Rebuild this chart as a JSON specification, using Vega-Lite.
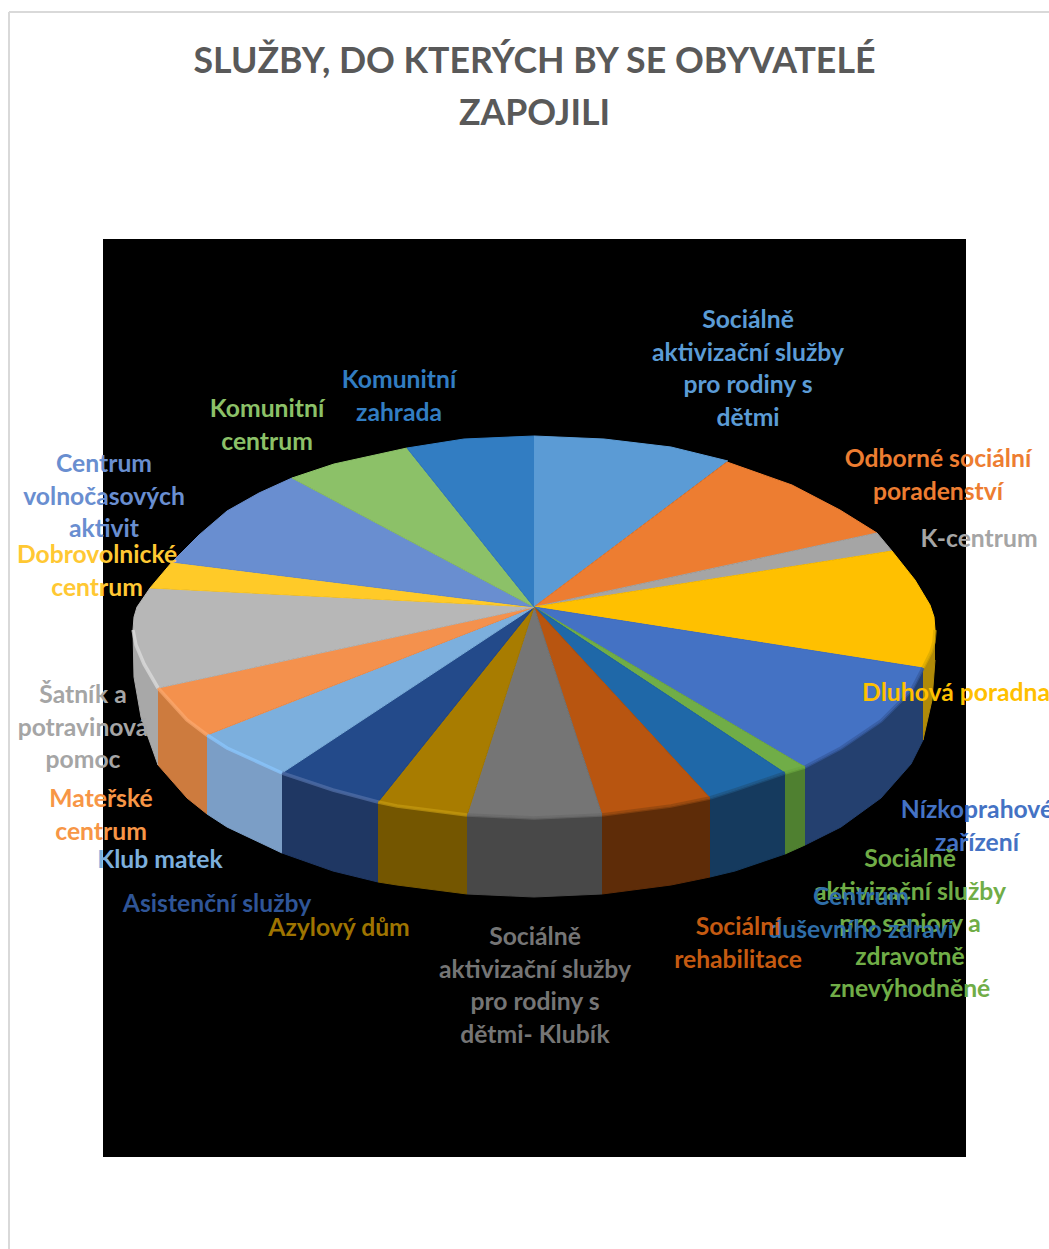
{"$schema":"https://vega.github.io/schema/vega-lite/v6.json","width":863,"height":918,"autosize":"none","padding":{"left":103,"top":239,"right":83,"bottom":92},"background":"white","view":{"fill":"black","stroke":null},
"title":{"text":["SLUŽBY, DO KTERÝCH BY SE OBYVATELÉ","ZAPOJILI"],"font":"Lato","fontSize":35.7,"fontWeight":"bold","color":"#595959","lineHeight":52,"anchor":"middle","offset":-122},
"datasets":{
"top":[
{"s":"Soc-rodiny","i":0,"x":0,"y":0},{"s":"Soc-rodiny","i":1,"x":0,"y":171},{"s":"Soc-rodiny","i":2,"x":70,"y":168},{"s":"Soc-rodiny","i":3,"x":137,"y":160},{"s":"Soc-rodiny","i":4,"x":194,"y":146},
{"s":"Odborné","i":0,"x":0,"y":0},{"s":"Odborné","i":1,"x":193,"y":145},{"s":"Odborné","i":2,"x":258,"y":122},{"s":"Odborné","i":3,"x":306,"y":97},{"s":"Odborné","i":4,"x":343,"y":74},
{"s":"K-centrum","i":0,"x":0,"y":0},{"s":"K-centrum","i":1,"x":343,"y":74},{"s":"K-centrum","i":2,"x":358,"y":56},
{"s":"Dluhová","i":0,"x":0,"y":0},{"s":"Dluhová","i":1,"x":358,"y":56},{"s":"Dluhová","i":2,"x":381,"y":27},{"s":"Dluhová","i":3,"x":396,"y":2},{"s":"Dluhová","i":4,"x":400,"y":-10},{"s":"Dluhová","i":5,"x":401,"y":-23},{"s":"Dluhová","i":6,"x":400,"y":-35},{"s":"Dluhová","i":7,"x":397,"y":-45},{"s":"Dluhová","i":8,"x":389,"y":-61},
{"s":"Nízkoprahové","i":0,"x":0,"y":0},{"s":"Nízkoprahové","i":1,"x":389,"y":-61},{"s":"Nízkoprahové","i":2,"x":377,"y":-84},{"s":"Nízkoprahové","i":3,"x":347,"y":-114},{"s":"Nízkoprahové","i":4,"x":307,"y":-141},{"s":"Nízkoprahové","i":5,"x":271,"y":-160},
{"s":"Soc-senioři","i":0,"x":0,"y":0},{"s":"Soc-senioři","i":1,"x":271,"y":-160},{"s":"Soc-senioři","i":2,"x":251,"y":-166},
{"s":"Duševní","i":0,"x":0,"y":0},{"s":"Duševní","i":1,"x":251,"y":-166},{"s":"Duševní","i":2,"x":201,"y":-183},{"s":"Duševní","i":3,"x":176,"y":-191},
{"s":"Rehabilitace","i":0,"x":0,"y":0},{"s":"Rehabilitace","i":1,"x":176,"y":-191},{"s":"Rehabilitace","i":2,"x":137,"y":-199},{"s":"Rehabilitace","i":3,"x":68,"y":-208},
{"s":"Klubík","i":0,"x":0,"y":0},{"s":"Klubík","i":1,"x":68,"y":-208},{"s":"Klubík","i":2,"x":0,"y":-211},{"s":"Klubík","i":3,"x":-67,"y":-208},
{"s":"Azylový","i":0,"x":0,"y":0},{"s":"Azylový","i":1,"x":-67,"y":-208},{"s":"Azylový","i":2,"x":-137,"y":-199},{"s":"Azylový","i":3,"x":-156,"y":-195},
{"s":"Asistenční","i":0,"x":0,"y":0},{"s":"Asistenční","i":1,"x":-156,"y":-195},{"s":"Asistenční","i":2,"x":-201,"y":-183},{"s":"Asistenční","i":3,"x":-252,"y":-166},
{"s":"Klub matek","i":0,"x":0,"y":0},{"s":"Klub matek","i":1,"x":-252,"y":-166},{"s":"Klub matek","i":2,"x":-307,"y":-141},{"s":"Klub matek","i":3,"x":-327,"y":-128},
{"s":"Mateřské","i":0,"x":0,"y":0},{"s":"Mateřské","i":1,"x":-327,"y":-128},{"s":"Mateřské","i":2,"x":-347,"y":-113},{"s":"Mateřské","i":3,"x":-376,"y":-81},
{"s":"Šatník","i":0,"x":0,"y":0},{"s":"Šatník","i":1,"x":-376,"y":-81},{"s":"Šatník","i":2,"x":-390,"y":-57},{"s":"Šatník","i":3,"x":-398,"y":-38},{"s":"Šatník","i":4,"x":-401,"y":-23},{"s":"Šatník","i":5,"x":-400,"y":-10},{"s":"Šatník","i":6,"x":-397,"y":0},{"s":"Šatník","i":7,"x":-384,"y":19},
{"s":"Dobrovolnické","i":0,"x":0,"y":0},{"s":"Dobrovolnické","i":1,"x":-384,"y":19},{"s":"Dobrovolnické","i":2,"x":-362,"y":45},
{"s":"Volnočasové","i":0,"x":0,"y":0},{"s":"Volnočasové","i":1,"x":-362,"y":45},{"s":"Volnočasové","i":2,"x":-335,"y":72},{"s":"Volnočasové","i":3,"x":-307,"y":96},{"s":"Volnočasové","i":4,"x":-275,"y":114},{"s":"Volnočasové","i":5,"x":-242,"y":129},
{"s":"Komunitní","i":0,"x":0,"y":0},{"s":"Komunitní","i":1,"x":-242,"y":129},{"s":"Komunitní","i":2,"x":-200,"y":143},{"s":"Komunitní","i":3,"x":-127,"y":159},
{"s":"Zahrada","i":0,"x":0,"y":0},{"s":"Zahrada","i":1,"x":-127,"y":159},{"s":"Zahrada","i":2,"x":-70,"y":168},{"s":"Zahrada","i":3,"x":0,"y":171}
],
"wall":[
{"s":"Dluhová","i":0,"x":401,"y":-23,"rim":1},{"s":"Dluhová","i":1,"x":400,"y":-35,"rim":1},{"s":"Dluhová","i":2,"x":397,"y":-45,"rim":1},{"s":"Dluhová","i":3,"x":389,"y":-61,"rim":1},{"s":"Dluhová","i":4,"x":389,"y":-133,"rim":0},{"s":"Dluhová","i":5,"x":398,"y":-93,"rim":0},{"s":"Dluhová","i":6,"x":401,"y":-53,"rim":0},
{"s":"Nízkoprahové","i":0,"x":389,"y":-61,"rim":1},{"s":"Nízkoprahové","i":1,"x":377,"y":-84,"rim":1},{"s":"Nízkoprahové","i":2,"x":347,"y":-114,"rim":1},{"s":"Nízkoprahové","i":3,"x":307,"y":-141,"rim":1},{"s":"Nízkoprahové","i":4,"x":271,"y":-160,"rim":1},{"s":"Nízkoprahové","i":5,"x":271,"y":-238,"rim":0},{"s":"Nízkoprahové","i":6,"x":307,"y":-220,"rim":0},{"s":"Nízkoprahové","i":7,"x":347,"y":-191,"rim":0},{"s":"Nízkoprahové","i":8,"x":377,"y":-157,"rim":0},{"s":"Nízkoprahové","i":9,"x":389,"y":-133,"rim":0},
{"s":"Soc-senioři","i":0,"x":271,"y":-160,"rim":1},{"s":"Soc-senioři","i":1,"x":251,"y":-166,"rim":1},{"s":"Soc-senioři","i":2,"x":251,"y":-247,"rim":0},{"s":"Soc-senioři","i":3,"x":271,"y":-238,"rim":0},
{"s":"Duševní","i":0,"x":251,"y":-166,"rim":1},{"s":"Duševní","i":1,"x":201,"y":-183,"rim":1},{"s":"Duševní","i":2,"x":176,"y":-191,"rim":1},{"s":"Duševní","i":3,"x":176,"y":-270,"rim":0},{"s":"Duševní","i":4,"x":201,"y":-264,"rim":0},{"s":"Duševní","i":5,"x":251,"y":-247,"rim":0},
{"s":"Rehabilitace","i":0,"x":176,"y":-191,"rim":1},{"s":"Rehabilitace","i":1,"x":137,"y":-199,"rim":1},{"s":"Rehabilitace","i":2,"x":68,"y":-208,"rim":1},{"s":"Rehabilitace","i":3,"x":68,"y":-287,"rim":0},{"s":"Rehabilitace","i":4,"x":137,"y":-278,"rim":0},{"s":"Rehabilitace","i":5,"x":176,"y":-270,"rim":0},
{"s":"Klubík","i":0,"x":68,"y":-208,"rim":1},{"s":"Klubík","i":1,"x":0,"y":-211,"rim":1},{"s":"Klubík","i":2,"x":-67,"y":-208,"rim":1},{"s":"Klubík","i":3,"x":-67,"y":-287,"rim":0},{"s":"Klubík","i":4,"x":0,"y":-290,"rim":0},{"s":"Klubík","i":5,"x":68,"y":-287,"rim":0},
{"s":"Azylový","i":0,"x":-67,"y":-208,"rim":1},{"s":"Azylový","i":1,"x":-137,"y":-199,"rim":1},{"s":"Azylový","i":2,"x":-156,"y":-195,"rim":1},{"s":"Azylový","i":3,"x":-156,"y":-275,"rim":0},{"s":"Azylový","i":4,"x":-137,"y":-278,"rim":0},{"s":"Azylový","i":5,"x":-67,"y":-287,"rim":0},
{"s":"Asistenční","i":0,"x":-156,"y":-195,"rim":1},{"s":"Asistenční","i":1,"x":-201,"y":-183,"rim":1},{"s":"Asistenční","i":2,"x":-252,"y":-166,"rim":1},{"s":"Asistenční","i":3,"x":-252,"y":-246,"rim":0},{"s":"Asistenční","i":4,"x":-201,"y":-264,"rim":0},{"s":"Asistenční","i":5,"x":-156,"y":-275,"rim":0},
{"s":"Klub matek","i":0,"x":-252,"y":-166,"rim":1},{"s":"Klub matek","i":1,"x":-307,"y":-141,"rim":1},{"s":"Klub matek","i":2,"x":-327,"y":-128,"rim":1},{"s":"Klub matek","i":3,"x":-327,"y":-207,"rim":0},{"s":"Klub matek","i":4,"x":-307,"y":-220,"rim":0},{"s":"Klub matek","i":5,"x":-252,"y":-246,"rim":0},
{"s":"Mateřské","i":0,"x":-327,"y":-128,"rim":1},{"s":"Mateřské","i":1,"x":-347,"y":-113,"rim":1},{"s":"Mateřské","i":2,"x":-376,"y":-81,"rim":1},{"s":"Mateřské","i":3,"x":-376,"y":-158,"rim":0},{"s":"Mateřské","i":4,"x":-347,"y":-191,"rim":0},{"s":"Mateřské","i":5,"x":-327,"y":-207,"rim":0},
{"s":"Šatník","i":0,"x":-376,"y":-81,"rim":1},{"s":"Šatník","i":1,"x":-390,"y":-57,"rim":1},{"s":"Šatník","i":2,"x":-398,"y":-38,"rim":1},{"s":"Šatník","i":3,"x":-401,"y":-23,"rim":1},{"s":"Šatník","i":4,"x":-400,"y":-70,"rim":0},{"s":"Šatník","i":5,"x":-393,"y":-110,"rim":0},{"s":"Šatník","i":6,"x":-376,"y":-158,"rim":0}
],
"labels":[
{"t":"Sociálně\naktivizační služby\npro rodiny s\ndětmi","s":"Soc-rodiny","x":214,"y":288},
{"t":"Odborné sociální\nporadenství","s":"Odborné","x":404,"y":149},
{"t":"K-centrum","s":"K-centrum","x":445,"y":69},
{"t":"Dluhová poradna","s":"Dluhová","x":422,"y":-85},
{"t":"Nízkoprahové\nzařízení","s":"Nízkoprahové","x":443,"y":-202},
{"t":"Sociálně\naktivizační služby\npro seniory a\nzdravotně\nznevýhodněné","s":"Soc-senioři","x":376,"y":-251},
{"t":"Centrum\nduševního zdraví","s":"Duševní","x":327,"y":-289},
{"t":"Sociální\nrehabilitace","s":"Rehabilitace","x":204,"y":-319},
{"t":"Sociálně\naktivizační služby\npro rodiny s\ndětmi- Klubík","s":"Klubík","x":1,"y":-329},
{"t":"Azylový dům","s":"Azylový","x":-195,"y":-320},
{"t":"Asistenční služby","s":"Asistenční","x":-317,"y":-296},
{"t":"Klub matek","s":"Klub matek","x":-374,"y":-252},
{"t":"Mateřské\ncentrum","s":"Mateřské","x":-433,"y":-191},
{"t":"Šatník a\npotravinová\npomoc","s":"Šatník","x":-451,"y":-87},
{"t":"Dobrovolnické\ncentrum","s":"Dobrovolnické","x":-437,"y":53},
{"t":"Centrum\nvolnočasových\naktivit","s":"Volnočasové","x":-430,"y":144},
{"t":"Komunitní\ncentrum","s":"Komunitní","x":-267,"y":199},
{"t":"Komunitní\nzahrada","s":"Zahrada","x":-135,"y":228}
],
"frame":[{"x":-525,"y":595,"x2":-525,"y2":-642},{"x":-525,"y":595,"x2":515,"y2":595}]
},
"layer":[
{"data":{"name":"frame"},"mark":{"type":"rule","color":"#d9d9d9","strokeWidth":2},
"encoding":{"x":{"field":"x","type":"quantitative","scale":{"domain":[-431,432],"nice":false,"zero":false},"axis":null},"y":{"field":"y","type":"quantitative","scale":{"domain":[-550,368],"nice":false,"zero":false},"axis":null},"x2":{"field":"x2"},"y2":{"field":"y2"}}},
{"data":{"name":"wall"},"mark":{"type":"line","filled":true,"strokeWidth":1,"strokeJoin":"round"},
"encoding":{"x":{"field":"x","type":"quantitative"},"y":{"field":"y","type":"quantitative"},"order":{"field":"i","type":"quantitative"},
"color":{"field":"s","type":"nominal","legend":null,"scale":{"domain":["Dluhová","Nízkoprahové","Soc-senioři","Duševní","Rehabilitace","Klubík","Azylový","Asistenční","Klub matek","Mateřské","Šatník"],"range":["#b08a08","#24406f","#4f8030","#153a5e","#5e2c08","#484848","#745600","#1f3763","#7b9ec6","#cd7b3e","#a8a8a8"]}},
"stroke":{"field":"s","type":"nominal","legend":null,"scale":{"domain":["Dluhová","Nízkoprahové","Soc-senioři","Duševní","Rehabilitace","Klubík","Azylový","Asistenční","Klub matek","Mateřské","Šatník"],"range":["#b08a08","#24406f","#4f8030","#153a5e","#5e2c08","#484848","#745600","#1f3763","#7b9ec6","#cd7b3e","#a8a8a8"]}}}},
{"data":{"name":"top"},"mark":{"type":"line","filled":true,"strokeWidth":1,"strokeJoin":"round"},
"encoding":{"x":{"field":"x","type":"quantitative"},"y":{"field":"y","type":"quantitative"},"order":{"field":"i","type":"quantitative"},
"color":{"field":"s","type":"nominal","legend":null,"scale":{"domain":["Soc-rodiny","Odborné","K-centrum","Dluhová","Nízkoprahové","Soc-senioři","Duševní","Rehabilitace","Klubík","Azylový","Asistenční","Klub matek","Mateřské","Šatník","Dobrovolnické","Volnočasové","Komunitní","Zahrada"],"range":["#5b9bd5","#ed7d31","#a5a5a5","#ffc000","#4472c4","#70ad47","#1f68a8","#b85510","#757575","#a87c00","#234a8a","#7cafdd","#f4914d","#b7b7b7","#ffca28","#698ed0","#8cc168","#327dc2"]}},
"stroke":{"field":"s","type":"nominal","legend":null,"scale":{"domain":["Soc-rodiny","Odborné","K-centrum","Dluhová","Nízkoprahové","Soc-senioři","Duševní","Rehabilitace","Klubík","Azylový","Asistenční","Klub matek","Mateřské","Šatník","Dobrovolnické","Volnočasové","Komunitní","Zahrada"],"range":["#5b9bd5","#ed7d31","#a5a5a5","#ffc000","#4472c4","#70ad47","#1f68a8","#b85510","#757575","#a87c00","#234a8a","#7cafdd","#f4914d","#b7b7b7","#ffca28","#698ed0","#8cc168","#327dc2"]}}}},
{"data":{"name":"wall"},"transform":[{"filter":"datum.rim==1"}],"mark":{"type":"line","strokeWidth":3.5,"strokeCap":"butt","opacity":0.7},
"encoding":{"x":{"field":"x","type":"quantitative"},"y":{"field":"y","type":"quantitative"},"order":{"field":"i","type":"quantitative"},"detail":{"field":"s"},
"color":{"field":"s","type":"nominal","legend":null,"scale":{"domain":["Dluhová","Nízkoprahové","Soc-senioři","Duševní","Rehabilitace","Klubík","Azylový","Asistenční","Klub matek","Mateřské","Šatník"],"range":["#d8a800","#365a9e","#6aa53e","#1f5480","#8f4610","#6a6a6a","#c49a10","#5470a8","#8cc8ff","#fbaa70","#e0e0e0"]}}}},
{"data":{"name":"labels"},"mark":{"type":"text","font":"Lato","fontWeight":"bold","fontSize":24.7,"lineHeight":32.5,"lineBreak":"\n","align":"center","baseline":"middle","dy":2},
"encoding":{"x":{"field":"x","type":"quantitative"},"y":{"field":"y","type":"quantitative"},"text":{"field":"t"},
"color":{"field":"s","type":"nominal","legend":null,"scale":{"domain":["Soc-rodiny","Odborné","K-centrum","Dluhová","Nízkoprahové","Soc-senioři","Duševní","Rehabilitace","Klubík","Azylový","Asistenční","Klub matek","Mateřské","Šatník","Dobrovolnické","Volnočasové","Komunitní","Zahrada"],"range":["#5b9bd5","#ed7d31","#a5a5a5","#ffc000","#4472c4","#70ad47","#2f6ea8","#c55a11","#757575","#9e7400","#2f5597","#7cafdd","#f79646","#a5a5a5","#ffc833","#698ed0","#8cc168","#327dc2"]}}}}
],
"resolve":{"scale":{"color":"independent","stroke":"independent"}}
}
